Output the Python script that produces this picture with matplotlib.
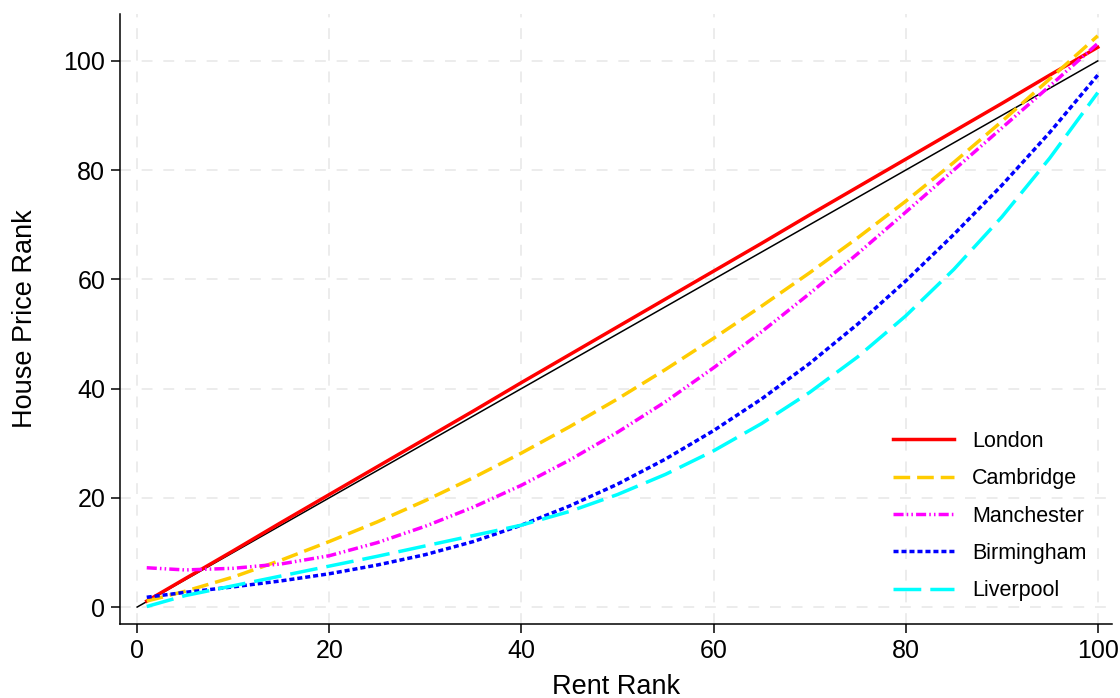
import matplotlib
matplotlib.use("Agg")
import matplotlib.pyplot as plt
import numpy as np

plt.rcParams['font.family'] = ['Liberation Sans', 'DejaVu Sans']

# rent rank grid the curves were read at
rent_rank = [1, 5, 10, 15, 20, 25, 30, 35, 40, 45, 50,
             55, 60, 65, 70, 75, 80, 85, 90, 95, 100]

london = [1.1, 5.2, 10.3, 15.5, 20.6, 25.7, 30.8, 35.9, 41.1, 46.2, 51.3,
          56.4, 61.5, 66.6, 71.8, 76.9, 82.0, 87.1, 92.2, 97.4, 102.5]
cambridge = [1.1, 2.9, 5.5, 8.6, 12.0, 15.6, 19.5, 23.7, 28.2, 33.0, 38.1,
             43.5, 49.2, 55.1, 61.2, 67.6, 74.3, 81.4, 88.9, 96.7, 104.6]
manchester = [7.2, 6.8, 7.1, 7.9, 9.4, 11.8, 14.8, 18.3, 22.3, 26.9, 32.0,
              37.6, 43.8, 50.4, 57.4, 64.7, 72.3, 80.0, 87.7, 95.4, 103.2]
birmingham = [1.8, 2.7, 3.7, 4.8, 6.1, 7.7, 9.6, 12.0, 15.0, 18.5, 22.5,
              27.1, 32.3, 38.1, 44.6, 51.8, 59.7, 68.2, 77.2, 86.9, 97.4]
liverpool = [0.1, 2.1, 3.9, 5.7, 7.5, 9.3, 11.2, 13.1, 15.0, 17.5, 20.6,
             24.3, 28.6, 33.6, 39.3, 45.8, 53.3, 61.8, 71.4, 82.2, 94.2]

diag = [0, 100]
ticks = [0, 20, 40, 60, 80, 100]

fig = plt.figure(figsize=(11.2, 6.98), dpi=100)
ax = fig.add_axes([0.107, 0.106, 0.886, 0.874])

lw = 2.5
ax.plot(diag, diag, color='black', lw=1.1, zorder=2)
ax.plot(rent_rank, london, color='#ff0000', lw=lw, label='London', zorder=3)
ax.plot(rent_rank, cambridge, color='#ffcc00', lw=lw, dashes=(4.8, 2.0),
        label='Cambridge', zorder=3)
ax.plot(rent_rank, manchester, color='#ff00ff', lw=lw,
        dashes=(2.9, 0.9, 0.45, 0.9, 0.45, 0.9), label='Manchester', zorder=3)
ax.plot(rent_rank, birmingham, color='#0000ff', lw=lw, dashes=(1.45, 0.85),
        label='Birmingham', zorder=3)
ax.plot(rent_rank, liverpool, color='#00ffff', lw=lw, dashes=(8.0, 2.6),
        label='Liverpool', zorder=3)

ax.set_xlim(-1.8, 101.5)
ax.set_ylim(-3.1, 108.6)
ax.set_xticks(ticks)
ax.set_yticks(ticks)
ax.grid(True, color='#ebebeb', lw=1.3, ls=(0, (6, 6)), zorder=0)
ax.set_axisbelow(True)

for s in ['top', 'right']:
    ax.spines[s].set_visible(False)
for s in ['left', 'bottom']:
    ax.spines[s].set_linewidth(1.1)
ax.tick_params(direction='out', length=6.5, width=1.1, labelsize=18, pad=4)

ax.set_xlabel('Rent Rank', fontsize=19.5, labelpad=8)
ax.set_ylabel('House Price Rank', fontsize=19.5, labelpad=18)

ax.legend(loc='lower left', frameon=False, fontsize=15.5,
          handlelength=2.87, handletextpad=0.83, labelspacing=0.76,
          borderaxespad=0, bbox_to_anchor=(0.770, 0.023))

fig.savefig('out.png', dpi=100)
